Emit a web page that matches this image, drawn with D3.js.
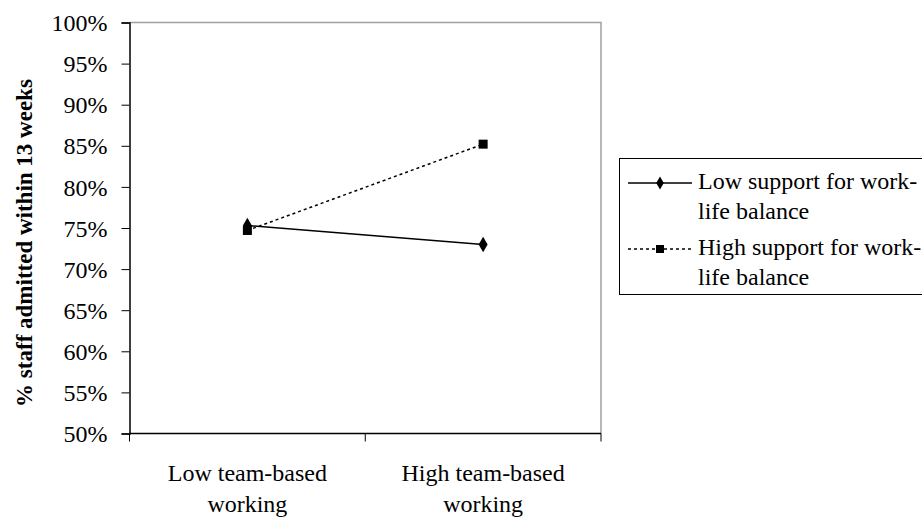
<!DOCTYPE html>
<html>
<head>
<meta charset="utf-8">
<script src="https://cdn.jsdelivr.net/npm/d3@7"></script>
<style>
  body { margin: 0; background: #fff; }
  svg { display: block; }
  svg text { font-family: "Liberation Serif", "Times New Roman", Times, serif; fill: #000; }
</style>
</head>
<body>
<div id="chart"></div>
<script>
// Chart data
const categories = ['Low team-based working', 'High team-based working'];
const categoryLines = [['Low team-based', 'working'], ['High team-based', 'working']];
const seriesNames = ['Low support for work-life balance', 'High support for work-life balance'];
const lowSupport = [75.3, 73.0];
const highSupport = [74.7, 85.2];
const yTicks = [50, 55, 60, 65, 70, 75, 80, 85, 90, 95, 100];

const width = 922, height = 518;
const plot = { left: 129.5, right: 601, top: 22.5, bottom: 433.5 };

const svg = d3.select('#chart').append('svg')
    .attr('width', width)
    .attr('height', height);

const x = d3.scaleBand()
    .domain(categories)
    .range([plot.left, plot.right]);

const y = d3.scaleLinear()
    .domain([50, 100])
    .range([plot.bottom, plot.top]);

// Plot area border (top & right in grey)
svg.append('path')
    .attr('d', `M${plot.left},${plot.top}H${plot.right}V${plot.bottom}`)
    .attr('fill', 'none')
    .attr('stroke', '#a0a0a0')
    .attr('stroke-width', 1.5);

// Y axis
const yAxis = svg.append('g')
    .attr('transform', `translate(${plot.left},0)`)
    .call(d3.axisLeft(y).tickValues(yTicks).tickSize(8).tickPadding(14).tickFormat(d => d + '%'));
yAxis.attr('font-family', null);
yAxis.select('.domain').attr('stroke', '#000').attr('stroke-width', 1.5);
yAxis.selectAll('.tick line').attr('stroke', '#000');
yAxis.selectAll('.tick text')
    .attr('font-size', 24)
    .attr('dy', '0.34em');

// X axis - ticks at band edges
const xAxis = svg.append('g')
    .attr('transform', `translate(0,${plot.bottom})`);
xAxis.append('line')
    .attr('x1', plot.left).attr('x2', plot.right)
    .attr('stroke', '#000').attr('stroke-width', 1.5);
const edges = [plot.left].concat(categories.map(c => x(c) + x.bandwidth()));
xAxis.selectAll('.xtick')
    .data(edges)
    .enter().append('line')
    .attr('x1', d => d).attr('x2', d => d)
    .attr('y1', 0).attr('y2', 8)
    .attr('stroke', '#000');

// X labels, two lines each
const xLabels = svg.append('g')
    .selectAll('text')
    .data(categories)
    .enter().append('text')
    .attr('x', d => x(d) + x.bandwidth() / 2)
    .attr('y', 481)
    .attr('text-anchor', 'middle')
    .attr('font-size', 24);
xLabels.each(function(d, i) {
    const t = d3.select(this);
    categoryLines[i].forEach((line, j) => {
        t.append('tspan')
            .attr('x', x(d) + x.bandwidth() / 2)
            .attr('dy', j === 0 ? 0 : 31)
            .text(line);
    });
});

// Y axis title
svg.append('text')
    .attr('transform', `translate(32,243) rotate(-90)`)
    .attr('text-anchor', 'middle')
    .attr('font-size', 23)
    .attr('font-weight', 'bold')
    .text('% staff admitted within 13 weeks');

// Series lines
const cx = c => x(c) + x.bandwidth() / 2;
const line = d3.line()
    .x(d => cx(d.cat))
    .y(d => y(d.val));

const lowData = categories.map((c, i) => ({ cat: c, val: lowSupport[i] }));
const highData = categories.map((c, i) => ({ cat: c, val: highSupport[i] }));

svg.append('path')
    .datum(lowData)
    .attr('d', line)
    .attr('fill', 'none')
    .attr('stroke', '#000')
    .attr('stroke-width', 1.5);

svg.append('path')
    .datum(highData)
    .attr('d', line)
    .attr('fill', 'none')
    .attr('stroke', '#000')
    .attr('stroke-width', 1.5)
    .attr('stroke-dasharray', '3,3');

// Markers
const diamond = d3.symbol().type(d3.symbolDiamond).size(70);
svg.append('g').selectAll('path')
    .data(lowData)
    .enter().append('path')
    .attr('d', diamond)
    .attr('transform', d => `translate(${cx(d.cat)},${y(d.val)})`)
    .attr('fill', '#000');

svg.append('g').selectAll('rect')
    .data(highData)
    .enter().append('rect')
    .attr('x', d => cx(d.cat) - 4.5)
    .attr('y', d => y(d.val) - 4.5)
    .attr('width', 9)
    .attr('height', 9)
    .attr('fill', '#000');

// Legend
const legend = svg.append('g');
legend.append('rect')
    .attr('x', 619.5).attr('y', 158.5)
    .attr('width', 320).attr('height', 136)
    .attr('fill', '#fff')
    .attr('stroke', '#000')
    .attr('stroke-width', 1);

const legendItems = [
    { name: seriesNames[0], dash: null, marker: 'diamond', y: 183 },
    { name: seriesNames[1], dash: '3,3', marker: 'square', y: 249 }
];
legendItems.forEach(item => {
    legend.append('line')
        .attr('x1', 628).attr('x2', 692)
        .attr('y1', item.y).attr('y2', item.y)
        .attr('stroke', '#000')
        .attr('stroke-width', 1.5)
        .attr('stroke-dasharray', item.dash);
    if (item.marker === 'diamond') {
        legend.append('path')
            .attr('d', d3.symbol().type(d3.symbolDiamond).size(50))
            .attr('transform', `translate(660,${item.y})`)
            .attr('fill', '#000');
    } else {
        legend.append('rect')
            .attr('x', 656).attr('y', item.y - 4)
            .attr('width', 8).attr('height', 8)
            .attr('fill', '#000');
    }
    const words = item.name.split('work-');
    const t = legend.append('text')
        .attr('x', 698)
        .attr('y', item.y + 6)
        .attr('font-size', 24);
    t.append('tspan').text(words[0] + 'work-');
    t.append('tspan').attr('x', 698).attr('dy', 30).text(words[1]);
});
</script>
</body>
</html>
